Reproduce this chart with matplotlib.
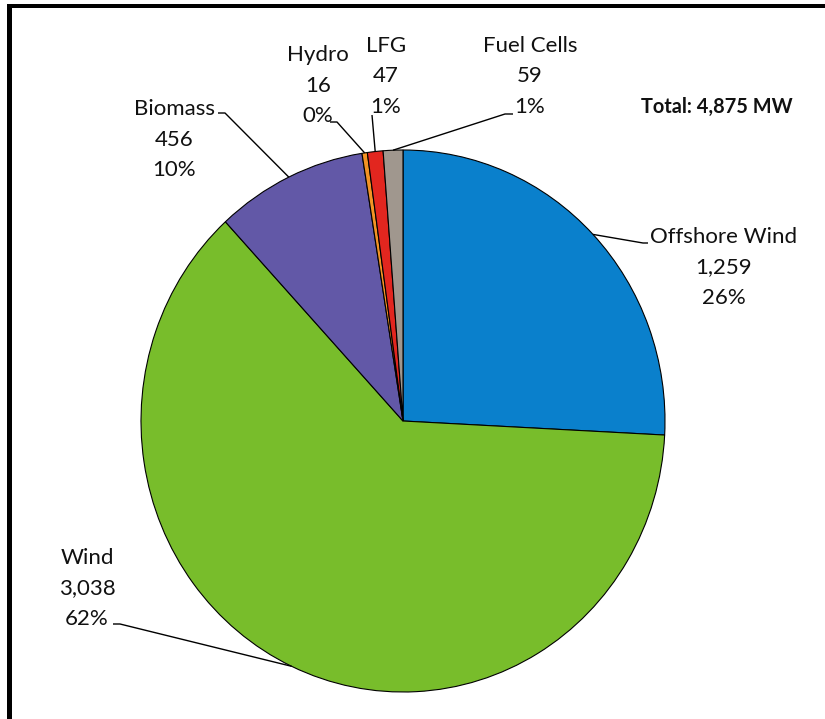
import matplotlib
matplotlib.use("Agg")
import matplotlib.pyplot as plt
import numpy as np
from matplotlib.patches import Rectangle

# Renewable capacity by resource (MW)
categories = ["Offshore Wind", "Wind", "Biomass", "Hydro", "LFG", "Fuel Cells"]
capacity_mw = [1259, 3038, 456, 16, 47, 59]
pct_labels = ["26%", "62%", "10%", "0%", "1%", "1%"]
colors = ["#0A80CC", "#78BD2B", "#6258A7", "#F39325", "#E2261F", "#A0978E"]
total_label = "Total: 4,875 MW"

# Canvas geometry (pixels)
W, H = 825, 719
CX, CY = 403, 421      # pie centre
RX, RY = 262, 271      # pie radii

# Label layout: block centre x, first baseline y, leader knee points (pixels)
label_x = [724, 87, 174, 318, 386, 530]
label_base = [243, 564, 115, 61, 52, 52]
leaders = [
    [(643, 243), (648, 243)],
    [(120, 624), (113, 624)],
    [(225, 113), (218, 113)],
    [(337, 122), (330, 122)],
    [(372, 115)],
    [(505, 114), (513, 114)],
]
LINE_STEP = 30.5
FONT = "Lato"


def px(x, y):
    """Pixel position -> data coordinates."""
    return (x - CX) / RX, (CY - y) / RY


fig = plt.figure(figsize=(W / 100, H / 100), dpi=100)
ax = fig.add_axes([0, 0, 1, 1])
wedges, _ = ax.pie(
    capacity_mw, colors=colors, startangle=90, counterclock=False,
    radius=1.0, wedgeprops=dict(edgecolor="black", linewidth=0.8),
)
ax.set_aspect("auto")
ax.set_xlim(-CX / RX, (W - CX) / RX)
ax.set_ylim((CY - H) / RY, CY / RY)
ax.axis("off")

for i, w in enumerate(wedges):
    mid = np.deg2rad((w.theta1 + w.theta2) / 2)
    pts = [(np.cos(mid), np.sin(mid))] + [px(*p) for p in leaders[i]]
    xs, ys = zip(*pts)
    ax.plot(xs, ys, color="black", lw=1.0, solid_capstyle="butt")

    lines = [categories[i], f"{capacity_mw[i]:,}", pct_labels[i]]
    for k, s in enumerate(lines):
        tx, ty = px(label_x[i], label_base[i] + k * LINE_STEP)
        ax.text(tx, ty, s, ha="center", va="baseline", fontsize=16,
                family=FONT, color="#111111")

tx, ty = px(793, 113)
ax.text(tx, ty, total_label, ha="right", va="baseline", fontsize=14.4,
        family=FONT, fontweight="bold", color="#111111")

# Chart frame (top and left edges)
fig.add_artist(Rectangle((7 / W, (H - 8) / H), (W - 7) / W, 4 / H,
                         transform=fig.transFigure, color="black", lw=0))
fig.add_artist(Rectangle((7 / W, 0), 5 / W, (H - 4) / H,
                         transform=fig.transFigure, color="black", lw=0))

fig.savefig("out.png", dpi=100, facecolor="white")
